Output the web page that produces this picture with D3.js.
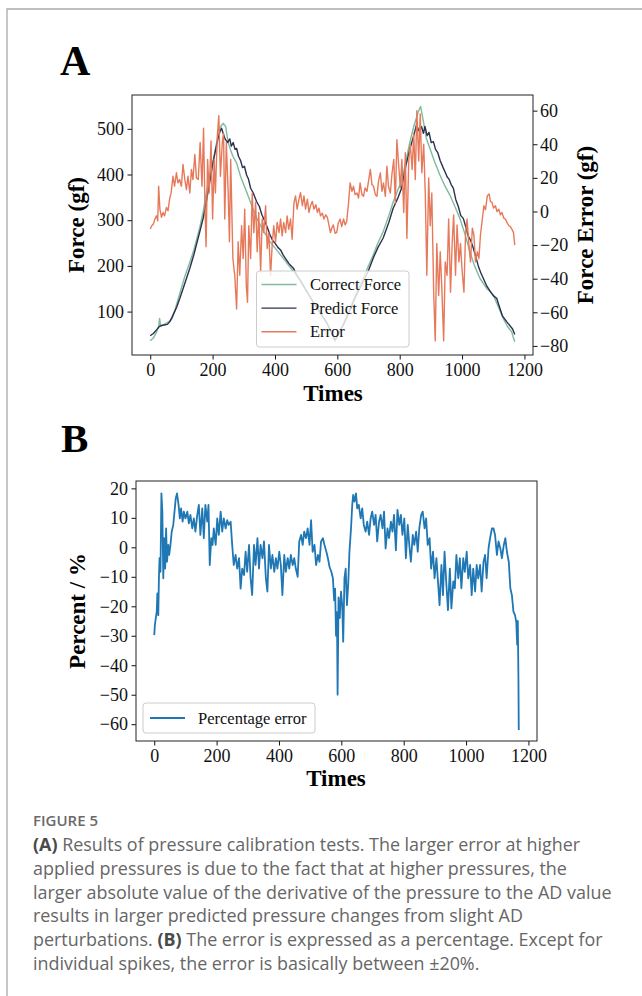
<!DOCTYPE html>
<html><head><meta charset="utf-8">
<script src="https://cdn.jsdelivr.net/npm/d3@7/dist/d3.min.js"></script>
<style>
html,body{margin:0;padding:0;background:#fff;}
svg{display:block;}
</style></head>
<body>
<svg id="c" width="642" height="996"></svg>
<script>
// ---------------- DATA ----------------
const xTicks = [0, 200, 400, 600, 800, 1000, 1200];
const forceTicks = [100, 200, 300, 400, 500];
const errorTicks = [-80, -60, -40, -20, 0, 20, 40, 60];
const pctTicks = [-60, -50, -40, -30, -20, -10, 0, 10, 20];
const legendA = ["Correct Force", "Predict Force", "Error"];
const legendB = ["Percentage error"];

// Correct Force (gf): [time, value]
const correctForce = [[0,36],[10,42],[20,55],[27,68],[30,85],[33,70],[45,72],[60,78],[70,85],[80,105],[95,140],[110,175],[127,208],[140,235],[159,285],[170,320],[180,360],[190,395],[202,432],[210,460],[218,487],[226,505],[234,512],[242,505],[250,470],[257,455],[265,440],[277,425],[290,395],[309,362],[325,333],[341,305],[360,280],[384,253],[405,235],[426,217],[445,200],[459,188],[470,178],[480,168],[500,145],[523,119],[545,97],[566,75],[580,55],[592,35],[600,45],[620,75],[640,107],[660,140],[683,173],[700,200],[715,224],[730,250],[747,275],[765,310],[779,340],[795,368],[806,385],[820,430],[833,472],[845,505],[860,538],[867,549],[875,520],[885,480],[897,457],[912,428],[929,399],[945,375],[961,355],[977,330],[993,304],[1010,268],[1025,231],[1040,200],[1057,173],[1080,150],[1100,137],[1115,112],[1132,85],[1145,68],[1159,56],[1165,42],[1169,34]];

// Predict Force (gf)
const predictForce = [[0,47],[10,52],[20,60],[30,68],[40,70],[55,72],[63,78],[75,95],[85,110],[95,129],[110,160],[127,195],[140,225],[159,275],[170,305],[180,341],[190,380],[202,428],[210,455],[218,480],[224,495],[229,501],[234,490],[240,478],[248,470],[255,478],[260,462],[266,470],[272,455],[277,457],[283,440],[290,430],[296,415],[302,418],[309,399],[315,390],[322,370],[330,360],[341,341],[350,330],[358,312],[366,300],[375,285],[384,268],[393,255],[400,250],[410,240],[418,235],[426,224],[435,215],[445,205],[452,200],[459,195],[470,180],[480,170],[500,147],[523,121],[545,98],[566,76],[580,56],[592,38],[600,46],[620,72],[640,102],[660,135],[683,166],[700,190],[715,217],[730,240],[747,261],[765,295],[779,326],[795,350],[806,370],[820,420],[833,457],[845,485],[854,509],[862,495],[870,505],[876,490],[881,505],[888,485],[894,492],[901,470],[908,472],[915,455],[922,448],[930,430],[940,414],[946,405],[952,395],[958,390],[965,378],[972,370],[980,345],[988,330],[996,310],[1004,304],[1012,285],[1020,265],[1028,255],[1036,239],[1044,220],[1052,200],[1060,185],[1068,173],[1080,155],[1090,145],[1100,135],[1111,129],[1120,110],[1130,90],[1143,78],[1155,68],[1162,62],[1169,50]];

// Force Error (gf)
const forceError = [[0,-10.4],[5,-8.5],[10,-7.5],[15,-4.5],[20,-2.6],[24,-5.5],[27,15],[31,1.4],[36,-3.5],[41,-0.6],[46,-2.6],[52,2.4],[57,0.4],[62,7.3],[67,11.2],[73,21],[78,15],[84,23],[89,17],[94,19],[100,15],[105,28],[111,19],[116,13],[121,21],[127,11],[132,25],[137,19],[143,34],[148,20],[154,19],[160,41],[166,15],[171,49.6],[175,7],[179,-21],[184,31],[189,11],[195,42],[200,-4.5],[205,31],[209,11],[215,44.7],[220,57],[225,21],[231,41],[235,46.6],[239,-4.5],[244,41],[250,11],[254,-18],[258,31],[265,-28],[271,-38],[277,-58],[282,-18],[287,-38],[293,-8.5],[298,-28],[303,1.4],[308,-44],[312,-54],[316,-8.5],[322,-28],[327,11],[332,-12.6],[338,5.3],[343,-24],[348,-0.6],[354,-36],[359,-4.5],[364,-12.6],[370,3.4],[375,-22],[380,-12.6],[386,-38],[391,-20],[396,-8.5],[402,-18],[407,-6.5],[413,-12.6],[418,-4.5],[423,-14.5],[428,-6.5],[434,-12.6],[439,-2.6],[444,-10.6],[450,-4.5],[455,-16.5],[461,5.3],[466,9.3],[471,1.4],[477,7.3],[482,11.2],[488,3.4],[493,9.3],[498,1.4],[504,7.3],[509,-0.6],[514,3.4],[520,6],[525,1.4],[531,4],[536,-0.6],[541,2],[546,-2.6],[552,-1],[557,-4.5],[563,-2],[568,-3.5],[573,-8],[578,-12.6],[582,-10],[587,-8],[593,-13],[598,-12.4],[603,-7],[609,-4.5],[614,-9],[620,-4.5],[625,-8],[630,-6],[636,5.3],[641,17],[647,12],[652,15],[657,10],[663,11],[668,8],[673,17],[679,10],[684,9],[689,14],[695,12],[700,18],[706,25],[711,16],[716,15],[722,10],[727,9],[732,18],[738,23],[743,12],[748,17],[754,9],[759,27],[764,15],[770,11],[775,22],[781,31],[786,5],[791,42.7],[802,14],[807,31],[813,-0.6],[818,35],[823,-16],[829,30],[834,40],[840,25],[845,46.6],[850,19],[855,60],[861,30],[866,58],[871,23],[877,40],[882,11],[887,-38],[893,20],[898,-8.5],[903,11],[909,-48],[914,-77],[919,-19],[925,-50],[930,-24],[935,-45],[941,-77],[946,-30],[952,-38],[957,-4.5],[963,-48],[968,-20],[973,-2],[979,-38],[984,-8],[990,-30],[995,-19],[1000,-35],[1006,-48],[1011,-14],[1016,-4.5],[1022,-20],[1027,-30],[1033,-10],[1038,-14],[1043,-30],[1049,-24],[1054,-28],[1059,-14],[1065,-4.5],[1070,3.4],[1075,1],[1081,9.3],[1087,10.4],[1091,6],[1096,5.3],[1101,2],[1107,3.4],[1112,0],[1118,1.4],[1123,-2],[1128,-0.6],[1134,-4],[1139,-4.5],[1145,-7],[1150,-8.5],[1155,-9],[1160,-10.6],[1165,-12.6],[1169,-20]];

// Percentage error (%)
const percentError = [[0,-29.8],[2,-26.4],[5,-24],[8,-21.8],[10,-15.6],[13,-23],[15,-10.5],[17,-3.7],[20,-8.3],[23,18.3],[26,12.1],[29,-10.5],[32,3.1],[35,-7.2],[38,6.4],[41,-4.9],[45,0.8],[48,-2.6],[52,0.8],[56,5.3],[61,7.6],[65,12.1],[69,16.6],[73,18.3],[78,14.4],[82,9.8],[86,13.2],[91,8.7],[95,12.1],[100,9.8],[106,12.1],[111,8.1],[116,11],[122,6.4],[127,9.8],[132,5.3],[138,11],[143,14.4],[148,4.2],[154,13.2],[159,3.1],[164,14.4],[170,8.7],[174,14.4],[178,-6],[183,3.1],[187,0.8],[191,6.4],[197,0.8],[202,9.8],[207,4.2],[213,12.1],[218,5.3],[223,9.8],[229,6.4],[234,9.2],[239,7.6],[245,8.7],[250,0.8],[255,-6],[261,-2.6],[266,-7.2],[272,-3.7],[277,-14],[282,-7.2],[288,-9.4],[293,-1.5],[298,-8.3],[304,0.8],[309,-10.5],[314,-16.2],[320,0.8],[325,-6],[331,3.1],[336,-7.2],[341,0.8],[347,-3.7],[352,2],[358,-10.5],[363,-15],[368,0.8],[374,-7.2],[379,-2.6],[385,-8.3],[390,-3.7],[395,-7.2],[401,-1.5],[406,-6],[411,-16.2],[417,-2.6],[422,-8.3],[428,-3.7],[433,-7.2],[438,-2.6],[444,-6],[449,-3.7],[454,-7.2],[460,-10],[465,2],[471,4.2],[476,0.8],[481,5.3],[487,3.1],[492,6.4],[498,0.8],[503,9.2],[508,-1.5],[514,0.8],[519,-6],[525,-2.6],[530,-4.9],[535,2],[541,3.1],[546,0.8],[552,-1.5],[557,-3.7],[562,-6.6],[568,-8.3],[573,-10.5],[577,-18],[580,-14],[583,-30],[586,-22],[588,-50],[591,-17],[595,-24],[599,-15],[603,-20],[606,-32],[610,-10.5],[614,-7.2],[618,-19.6],[622,-12.8],[626,-1.5],[631,6.4],[635,14.4],[638,17.8],[642,15.5],[647,18.3],[651,13.2],[656,14.4],[662,9.8],[667,13.2],[672,7.6],[678,5.3],[683,8.7],[689,4.2],[694,9.8],[699,12.1],[705,7.6],[710,11],[715,2],[721,8.7],[726,11],[732,6.4],[737,12.1],[742,-0.4],[748,6.4],[753,3.1],[759,8.7],[764,5.3],[769,11],[775,-1],[780,12.7],[786,7.6],[791,11],[796,4.2],[802,9.8],[807,-3.7],[813,7.6],[818,0.8],[823,-4.9],[829,4.2],[834,0.8],[840,5.3],[845,-1.5],[850,6.4],[856,11],[861,12.1],[867,6.4],[872,9.8],[877,0.8],[883,3.1],[888,-7.2],[894,-1.5],[899,-10.5],[905,-3.7],[910,-11.6],[915,-19.6],[921,-6],[926,-16.2],[931,-1.5],[937,-12.8],[942,-21.3],[948,-7.2],[953,-20.7],[959,-11.6],[964,-13.9],[969,-2.6],[975,-10.5],[980,-3.7],[985,-13.9],[991,-3.7],[996,-8.3],[1002,-1.5],[1007,-10.5],[1013,-6],[1018,-16.2],[1023,-7.2],[1029,-15],[1034,-6],[1039,-10.5],[1045,-6],[1050,-15],[1056,-4.9],[1061,-2.6],[1066,-10.5],[1072,-0.4],[1077,3.1],[1083,6.4],[1088,6.4],[1093,4.2],[1099,-2.6],[1104,2],[1110,-0.4],[1115,-3.7],[1121,0.8],[1126,3.1],[1131,-1.5],[1137,-4.9],[1142,-13.9],[1147,-16.2],[1152,-21.8],[1157,-23],[1161,-25.3],[1164,-33],[1166,-25],[1168,-45],[1169,-62]];

const captionTitle = "FIGURE 5";
const captionLines = [
  [["(A)", true], [" Results of pressure calibration tests. The larger error at higher", false]],
  [["applied pressures is due to the fact that at higher pressures, the", false]],
  [["larger absolute value of the derivative of the pressure to the AD value", false]],
  [["results in larger predicted pressure changes from slight AD", false]],
  [["perturbations. ", false], ["(B)", true], [" The error is expressed as a percentage. Except for", false]],
  [["individual spikes, the error is basically between ±20%.", false]]
];

// ---------------- DRAWING ----------------
const svg = d3.select("#c");
const serif = "'Liberation Serif','Times New Roman',Times,serif";
const C_GREEN = "#7fbb9c", C_NAVY = "#2b3050", C_ORANGE = "#e7795b", C_BLUE = "#1f77b4";
const tickFont = 18;

function txt(sel, size, bold) {
  return sel.style("font-family", serif).style("font-size", size + "px")
    .style("font-weight", bold ? "bold" : "normal");
}

// frame
svg.append("path").attr("d", "M7,996 L7,9 L642,9").attr("fill", "none")
  .attr("stroke", "#aaaaaa").attr("stroke-width", 1.3);

// panel letters
txt(svg.append("text").attr("x", 60).attr("y", 75), 42, true).text("A");
txt(svg.append("text").attr("x", 61).attr("y", 452), 41, true).text("B");

function styleAxis(g) {
  g.attr("font-family", null).attr("font-size", null);
  g.selectAll("path.domain").remove();
  g.selectAll(".tick line").attr("stroke", "#111").attr("stroke-width", 1);
  txt(g.selectAll(".tick text"), tickFont, false).attr("fill", "#111");
}
const minusFmt = d => (d < 0 ? "\u2212" + Math.abs(d) : String(d));

// ---------- Panel A ----------
const A = {l: 132, r: 533, t: 95, b: 355};
const xA = d3.scaleLinear().domain([-58.5, 1227.5]).range([A.l, A.r]);
const yF = d3.scaleLinear().domain([5, 574]).range([A.b, A.t]);
const yE = d3.scaleLinear().domain([-85.4, 69.3]).range([A.b, A.t]);

const defs = svg.append("defs");
defs.append("clipPath").attr("id", "clipA")
  .append("rect").attr("x", A.l).attr("y", A.t).attr("width", A.r - A.l).attr("height", A.b - A.t);
defs.append("clipPath").attr("id", "clipB")
  .append("rect").attr("x", 136).attr("y", 481).attr("width", 401).attr("height", 260);

const gA = svg.append("g").attr("clip-path", "url(#clipA)");
const lineF = d3.line().x(d => xA(d[0])).y(d => yF(d[1]));
const lineE = d3.line().x(d => xA(d[0])).y(d => yE(d[1]));
gA.append("path").datum(correctForce).attr("d", lineF).attr("fill", "none")
  .attr("stroke", C_GREEN).attr("stroke-width", 1.4).attr("stroke-linejoin", "round");
gA.append("path").datum(predictForce).attr("d", lineF).attr("fill", "none")
  .attr("stroke", C_NAVY).attr("stroke-width", 1.4).attr("stroke-linejoin", "round");
gA.append("path").datum(forceError).attr("d", lineE).attr("fill", "none")
  .attr("stroke", C_ORANGE).attr("stroke-width", 1.4).attr("stroke-linejoin", "round");

svg.append("g").attr("transform", `translate(0,${A.b})`)
  .call(d3.axisBottom(xA).tickValues(xTicks).tickSize(4.5).tickPadding(3.5).tickFormat(minusFmt)).call(styleAxis);
svg.append("g").attr("transform", `translate(${A.l},0)`)
  .call(d3.axisLeft(yF).tickValues(forceTicks).tickSize(4.5).tickPadding(3.5).tickFormat(minusFmt)).call(styleAxis);
svg.append("g").attr("transform", `translate(${A.r},0)`)
  .call(d3.axisRight(yE).tickValues(errorTicks).tickSize(4.5).tickPadding(2.5).tickFormat(minusFmt)).call(styleAxis);
svg.append("rect").attr("x", A.l).attr("y", A.t).attr("width", A.r - A.l).attr("height", A.b - A.t)
  .attr("fill", "none").attr("stroke", "#222").attr("stroke-width", 1);

// legend A
const lgA = svg.append("g");
lgA.append("rect").attr("x", 256.5).attr("y", 271).attr("width", 152.5).attr("height", 76)
  .attr("rx", 3).attr("fill", "#fff").attr("fill-opacity", 0.8).attr("stroke", "#cccccc").attr("stroke-width", 1);
const legColors = [C_GREEN, C_NAVY, C_ORANGE];
legendA.forEach((name, i) => {
  const y = 284.5 + i * 23.6;
  lgA.append("line").attr("x1", 261.5).attr("x2", 296.5).attr("y1", y).attr("y2", y)
    .attr("stroke", legColors[i]).attr("stroke-width", 1.4);
  txt(lgA.append("text").attr("x", 310).attr("y", y + 5.5), 16.5, false).attr("fill", "#111").text(name);
});

// axis labels A
txt(svg.append("text").attr("transform", `translate(84,225) rotate(-90)`).attr("text-anchor", "middle"), 23, true).text("Force (gf)");
txt(svg.append("text").attr("transform", `translate(593,225) rotate(-90)`).attr("text-anchor", "middle"), 23, true).text("Force Error (gf)");
txt(svg.append("text").attr("x", 333).attr("y", 401).attr("text-anchor", "middle"), 23, true).text("Times");

// ---------- Panel B ----------
const B = {l: 136, r: 537, t: 481, b: 741};
const xB = d3.scaleLinear().domain([-58.5, 1227.5]).range([B.l, B.r]);
const yP = d3.scaleLinear().domain([-65.7, 22.5]).range([B.b, B.t]);
const gB = svg.append("g").attr("clip-path", "url(#clipB)");
gB.append("path").datum(percentError)
  .attr("d", d3.line().x(d => xB(d[0])).y(d => yP(d[1])))
  .attr("fill", "none").attr("stroke", C_BLUE).attr("stroke-width", 1.8).attr("stroke-linejoin", "round");

svg.append("g").attr("transform", `translate(0,${B.b})`)
  .call(d3.axisBottom(xB).tickValues(xTicks).tickSize(4.5).tickPadding(3.5).tickFormat(minusFmt)).call(styleAxis);
svg.append("g").attr("transform", `translate(${B.l},0)`)
  .call(d3.axisLeft(yP).tickValues(pctTicks).tickSize(4.5).tickPadding(3.5).tickFormat(minusFmt)).call(styleAxis);
svg.append("rect").attr("x", B.l).attr("y", B.t).attr("width", B.r - B.l).attr("height", B.b - B.t)
  .attr("fill", "none").attr("stroke", "#222").attr("stroke-width", 1);

const lgB = svg.append("g");
lgB.append("rect").attr("x", 143).attr("y", 703).attr("width", 172).attr("height", 30)
  .attr("rx", 3).attr("fill", "#fff").attr("fill-opacity", 0.8).attr("stroke", "#cccccc").attr("stroke-width", 1);
legendB.forEach((name) => {
  const y = 718;
  lgB.append("line").attr("x1", 150).attr("x2", 185).attr("y1", y).attr("y2", y)
    .attr("stroke", C_BLUE).attr("stroke-width", 1.8);
  txt(lgB.append("text").attr("x", 198).attr("y", y + 5.5), 16.5, false).attr("fill", "#111").text(name);
});

txt(svg.append("text").attr("transform", `translate(85,611) rotate(-90)`).attr("text-anchor", "middle"), 23, true).text("Percent / %");
txt(svg.append("text").attr("x", 336).attr("y", 786).attr("text-anchor", "middle"), 23, true).text("Times");

// ---------- Caption ----------
const sans = "'Open Sans','Noto Sans',sans-serif";
svg.append("text").attr("x", 33).attr("y", 826).style("font-family", sans).style("font-size", "15px")
  .style("font-weight", 600).attr("fill", "#6a6a6a").text(captionTitle);
const capTexts = captionLines.map((parts, i) => {
  const t = svg.append("text").attr("x", 33).attr("y", 851 + i * 23.8)
    .style("font-family", sans).style("font-size", "16px").attr("fill", "#666");
  parts.forEach(([s, b]) => {
    t.append("tspan").style("font-weight", b ? 700 : 400).attr("fill", b ? "#4a4a4a" : "#666").text(s);
  });
  return t;
});
// fit the longest caption line to the width it has in the reference
const refW = 579;
const w = capTexts[2].node().getComputedTextLength();
if (w > 0) {
  const fs = 16 * refW / w;
  capTexts.forEach(t => t.style("font-size", fs.toFixed(2) + "px"));
}
</script>
</body></html>
